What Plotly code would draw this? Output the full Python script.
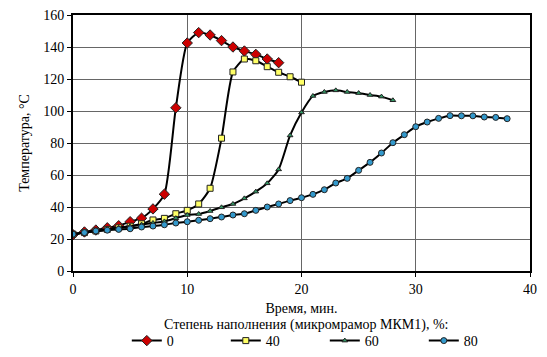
import plotly.graph_objects as go

time_0 = list(range(0, 19))
temp_0 = [22.7, 24.4, 25.6, 27, 28.3, 30.8, 33, 38.8, 48, 102, 142.5, 149, 147.5, 144, 140, 137.5, 135.4, 132.5, 130.2]

time_40 = list(range(0, 21))
temp_40 = [23, 24, 25, 26, 27, 28, 29.5, 31.9, 32.9, 35.8, 37.9, 41.9, 51.7, 83, 124.4, 132.5, 131.4, 127.7, 124.2, 121.4, 118]

time_60 = list(range(0, 29))
temp_60 = [23, 24, 25, 26, 27, 28, 29, 30, 31, 33, 35, 35.6, 37.5, 39.8, 41.9, 45.4, 49.6, 54.8, 63.5, 84.7, 99.1,
           109.4, 111.9, 112.9, 111.9, 111.2, 110, 109, 106.7]

time_80 = list(range(0, 39))
temp_80 = [23, 24, 25, 25.5, 26, 26.4, 27.5, 28.1, 28.9, 30, 30.8, 31.7, 32.7, 33.75, 35, 35.8, 37.9, 40, 41.9, 44,
           45.8, 47.9, 50.8, 55, 57.9, 62.9, 67.9, 73.75, 80.2, 85.2, 90.2, 93.1, 95.4, 97.1, 97, 97, 96.25, 96, 95.2]

series_names = ["0", "40", "60", "80"]
legend_title = "Степень наполнения (микромрамор МКМ1), %:"
x_ticks = [0, 10, 20, 30, 40]
y_ticks = [0, 20, 40, 60, 80, 100, 120, 140, 160]

styles = [
    dict(symbol="diamond", color="#CC0000", size=8),
    dict(symbol="square", color="#FFFF66", size=6),
    dict(symbol="triangle-up", color="#339966", size=5),
    dict(symbol="circle", color="#3399CC", size=6),
]

fig = go.Figure()
for name, xs, ys, st in zip(series_names, [time_0, time_40, time_60, time_80],
                            [temp_0, temp_40, temp_60, temp_80], styles):
    fig.add_trace(go.Scatter(
        x=xs, y=ys, name=name, mode="lines+markers",
        line=dict(color="black", width=2, shape="spline", smoothing=0.6),
        marker=dict(symbol=st["symbol"], color=st["color"], size=st["size"],
                    line=dict(color="#222222", width=1)),
    ))

# page body has an 8px default margin, so the figure is 8px smaller
font_family = "'Liberation Serif', 'Times New Roman', Times, serif"
fig.update_layout(
    width=539, height=349,
    margin=dict(l=65, r=17, t=7, b=86, autoexpand=False),
    paper_bgcolor="white", plot_bgcolor="white",
    font=dict(family=font_family, size=14, color="black"),
    showlegend=True,
    legend=dict(
        orientation="h", x=0.551, xanchor="center",
        yref="container", y=-0.01, yanchor="bottom",
        font=dict(family=font_family, size=14),
        itemwidth=30, entrywidth=54, tracegroupgap=0,
        bgcolor="rgba(0,0,0,0)",
    ),
    annotations=[dict(
        text=legend_title, xref="paper", yref="paper", x=0.51, y=-0.211,
        xanchor="center", yanchor="middle", showarrow=False,
        font=dict(family=font_family, size=14),
    )],
)
fig.update_xaxes(
    range=[0, 40], tickvals=x_ticks, ticks="outside", ticklen=4, tickcolor="black",
    showline=True, linecolor="black", linewidth=2, mirror=True,
    showgrid=True, gridcolor="#666666", gridwidth=1, zeroline=False,
    title=dict(text="Время, мин.", standoff=7, font=dict(size=14)),
    tickfont=dict(size=14), automargin=False, ticklabeloverflow="allow",
)
fig.update_yaxes(
    range=[0, 160], tickvals=y_ticks, ticks="outside", ticklen=4, tickcolor="black",
    showline=True, linecolor="black", linewidth=2, mirror=True,
    showgrid=True, gridcolor="#666666", gridwidth=1, zeroline=False,
    title=dict(text="Температура, °С", standoff=10, font=dict(size=14)),
    tickfont=dict(size=14), automargin=False, ticklabeloverflow="allow",
)

fig.write_html("out.html")
